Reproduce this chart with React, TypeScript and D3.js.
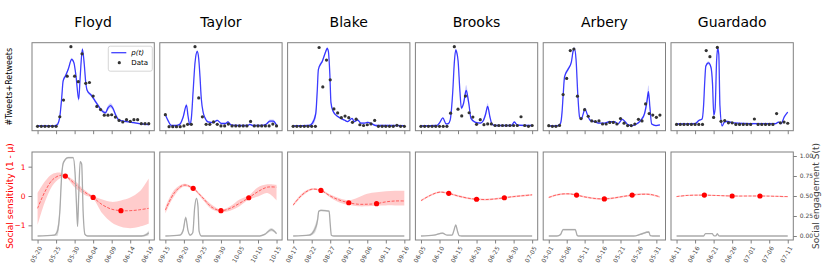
import React, { useEffect, useRef } from 'react'
import * as d3 from 'd3'

const eventNames = ['Floyd', 'Taylor', 'Blake', 'Brooks', 'Arbery', 'Guardado']
const startDates = ['2020-05-20', '2020-09-15', '2020-08-17', '2020-06-05', '2020-05-01', '2020-06-11']
const spanDays = [30, 30, 30, 30, 31, 30]

// daily #tweets+retweets (busiest day = 100)
const floydTweets = [0, 0, 0, 0, 0, 0, 12, 33, 63, 100, 63, 56, 91, 54, 55, 38, 25, 21, 14, 14, 14.5, 11.6, 7.4, 5.4, 8.3, 6.2, 8.3, 8.3, 3.3, 3.3, 3.3]
const taylorTweets = [15, 0, 0, 0, 0, 1, 3, 3, 100, 36, 12.4, 3, 3, 6, 3, 1, 1, 3.3, 1, 1, 1, 1, 1, 6.6, 1, 1, 1, 1, 1, 3.3, 1]
const blakeTweets = [0, 0, 0, 0, 0, 0, 0, 100, 50, 84, 59, 22, 17, 11, 13, 11, 5, 9, 2, 1, 2, 3, 7.4, 0, 0, 0, 0, 0, 1.2, 0, 0]
const brooksTweets = [0, 0, 0, 0, 0, 0, 0, 0, 16.5, 100, 21.5, 13, 38, 17, 11.6, 2.5, 8.3, 2, 3, 3, 1, 1, 1, 1, 1, 1, 1, 12, 1, 0, 1]
const arberyTweets = [0.8, 0, 0, 1.2, 41, 62, 98, 100, 39, 10, 21.5, 13, 7, 6.2, 7, 3, 3, 5, 5, 3, 10, 4, 1, 1, 3, 9, 7, 29, 16.5, 14.5, 11.6, 14.5]
const guardadoTweets = [0, 0, 0, 0, 0, 0, 0, 0, 96, 88, 9, 100, 4, 5, 2, 2, 0, 0, 0, 0, 0, 7, 0, 0, 0, 0, 0, 14, 2, 3, 1.5]

// p(t): [day, value, band half-width]
const floydP = [[0, 0.5, 1], [4.5, 0.5, 1], [5.3, 2, 2], [6, 12, 4], [6.5, 35, 4], [6.9, 57, 3], [7.5, 63, 2], [8.3, 72, 2], [9.2, 84, 2], [9.8, 80, 2], [10.4, 62, 2], [11.1, 34, 3], [11.5, 62, 3], [12.1, 97, 2], [12.6, 78, 2], [13, 55, 2], [13.4, 45, 2], [14.5, 39, 2], [15.5, 32, 2], [16.5, 25, 2], [17.5, 19, 2], [18.3, 17, 2], [19, 23, 3], [19.7, 26, 3], [20.4, 22, 3], [21, 15, 2], [21.7, 9, 2], [22.5, 7, 1], [24, 6, 1], [26, 4.5, 1], [28, 3, 1], [30, 2, 1]]
const taylorP = [[0, 15, 1], [0.8, 7, 1], [1.6, 1.5, 1], [3, 1.5, 1], [3.9, 3, 2], [4.8, 12, 3], [5.7, 27, 2], [6.1, 14, 2], [6.6, 2.5, 1], [7, 10, 2], [7.5, 45, 2], [8, 80, 2], [8.6, 94, 2], [9, 85, 2], [9.3, 66, 2], [9.7, 35, 2], [10.2, 18, 1], [10.6, 12, 1], [11.5, 6, 1], [12.9, 5, 1], [14, 8, 1], [15.1, 4, 1], [16.2, 4, 1], [16.9, 6, 1], [17.8, 2, 1], [20, 1.5, 1], [22.2, 1.5, 1], [22.8, 3, 1], [23.5, 1.5, 1], [26, 1.5, 1], [27.2, 3, 1], [28.2, 7, 2], [29.1, 7, 2], [30, 2, 1]]
const blakeP = [[0, 0.5, 1], [4.3, 1, 1], [5.2, 4, 3], [6.1, 16, 6], [6.5, 45, 5], [6.8, 72, 3], [7.9, 83, 2], [8.8, 95, 2], [9.2, 99, 2], [9.5, 95, 2], [9.9, 66, 2], [10.2, 30, 2], [10.7, 20, 2], [11.5, 14.5, 1], [12.5, 11, 1], [13.8, 8, 1], [14.7, 6, 1], [15.9, 10, 1], [16.5, 6, 1], [17.4, 8, 1], [18.3, 4, 1], [19.2, 4, 1], [20.1, 5, 1], [21.3, 3, 1], [22.3, 1, 1], [26, 1, 1], [30, 0.8, 1]]
const brooksP = [[0, 0.5, 1], [4.3, 1, 1], [5.1, 5, 1], [5.9, 10.5, 1], [6.8, 3, 1], [7.4, 3.5, 1], [7.9, 8, 1], [8.3, 25, 2], [8.6, 45, 2], [9, 80, 2], [9.4, 96, 2], [9.7, 92, 2], [10, 83, 2], [10.5, 45, 2], [10.9, 23, 2], [11.5, 29, 3], [12.2, 45, 7], [12.9, 29, 3], [13.5, 10, 2], [14.7, 5, 1], [16, 4, 1], [16.8, 7, 2], [17.4, 14.5, 3], [18, 25, 4], [18.6, 12, 2], [19.2, 2.5, 1], [20, 1, 1], [24.4, 1, 1], [25.2, 5.4, 1], [26, 1.5, 1], [30, 1, 1]]
const arberyP = [[0, 0.5, 1], [2.6, 1, 1], [3.3, 4, 2], [3.7, 18, 3], [4, 39, 3], [4.4, 64, 3], [5.4, 74, 2], [6.3, 83, 2], [6.9, 99, 3], [7.2, 100, 3], [7.6, 87, 2], [8.1, 41, 2], [8.6, 12, 1], [9.1, 9, 1], [9.5, 14.5, 1], [10.1, 22.5, 2], [10.7, 16, 1], [11.5, 8, 1], [12.8, 6, 1], [14.2, 4, 1], [15.6, 4, 1], [16.9, 6, 1], [18.3, 6, 1], [19.3, 3.3, 1], [20.5, 9, 1], [21.3, 6, 1], [22.2, 1.7, 1], [23.4, 1, 1], [24.8, 4, 1], [25.7, 8, 2], [26.7, 16.5, 3], [27.4, 33, 7], [27.8, 45, 8], [28.2, 25, 4], [28.7, 3, 1], [29.9, 1, 1], [31, 2, 1]]
const guardadoP = [[0, 0.5, 1], [5, 1, 1], [6, 5, 1], [6.9, 7, 1], [7.3, 25, 2], [7.6, 55, 2], [7.9, 76, 2], [8.6, 80, 2], [9.3, 74, 2], [9.7, 53, 2], [10.05, 12, 2], [10.4, 20, 2], [10.8, 82, 2], [11.1, 99, 2], [11.4, 91, 2], [11.7, 25, 2], [12.3, -2, 1], [12.9, 3, 1], [13.8, 4, 1], [15.1, 2, 1], [19.6, 1, 1], [26.8, 1, 1], [27.5, 3, 1], [28.2, 1, 1], [29.1, 10, 1], [30, 16, 1]]

// social sensitivity 1 - mu: [day, mean, lower, upper]
const floydMu = [[0, -0.42, -1.0, 0.1], [2, 0.15, -0.2, 0.5], [4, 0.55, 0.35, 0.75], [6, 0.7, 0.6, 0.8], [7.5, 0.68, 0.64, 0.72], [10, 0.42, 0.3, 0.52], [12.5, 0.15, 0.05, 0.22], [15, -0.05, -0.1, 0.0], [17.5, -0.3, -0.6, -0.12], [20, -0.45, -0.9, -0.2], [22.5, -0.5, -1.05, -0.15], [25, -0.5, -1.1, -0.05], [27.5, -0.47, -1.05, 0.15], [30, -0.42, -0.95, 0.6]]
const taylorMu = [[0, -0.48, -0.6, -0.38], [2.5, 0.12, 0.02, 0.22], [5, 0.37, 0.32, 0.42], [7.5, 0.26, 0.22, 0.3], [10, -0.05, -0.12, 0.0], [12.5, -0.38, -0.45, -0.3], [15, -0.5, -0.54, -0.46], [17.5, -0.42, -0.5, -0.35], [20, -0.25, -0.35, -0.12], [22.5, -0.06, -0.12, 0.02], [25, 0.15, -0.02, 0.3], [27.5, 0.3, 0.1, 0.4], [30, 0.3, -0.15, 0.38]]
const blakeMu = [[0, -0.31, -0.35, -0.27], [2.5, 0.05, 0.0, 0.1], [5, 0.23, 0.2, 0.26], [7.5, 0.19, 0.16, 0.22], [10, 0.0, -0.05, 0.05], [12.5, -0.14, -0.22, -0.08], [15, -0.23, -0.3, -0.15], [17.5, -0.28, -0.35, -0.05], [20, -0.28, -0.35, 0.08], [22.5, -0.26, -0.33, 0.13], [25, -0.2, -0.32, 0.16], [27.5, -0.17, -0.32, 0.18], [30, -0.17, -0.32, 0.18]]
const brooksMu = [[0, -0.16, -0.19, -0.13], [2.5, 0.02, -0.01, 0.05], [5, 0.13, 0.1, 0.16], [7.5, 0.09, 0.06, 0.12], [10, 0.0, -0.03, 0.03], [12.5, -0.07, -0.1, -0.04], [15, -0.11, -0.14, -0.08], [17.5, -0.12, -0.15, -0.09], [20, -0.1, -0.13, -0.07], [22.5, -0.06, -0.09, -0.03], [25, -0.02, -0.05, 0.01], [27.5, 0.01, -0.02, 0.04], [30, 0.04, 0.01, 0.07]]
const arberyMu = [[0, -0.05, -0.08, -0.02], [2, 0.03, 0.0, 0.06], [4, 0.07, 0.04, 0.1], [6, 0.07, 0.04, 0.1], [7.75, 0.03, 0.0, 0.06], [10, -0.03, -0.06, 0.0], [12.5, -0.08, -0.11, -0.05], [15.5, -0.1, -0.13, -0.07], [18, -0.07, -0.1, -0.04], [20.5, -0.02, -0.05, 0.01], [23.25, 0.03, 0.0, 0.06], [26, 0.06, 0.03, 0.09], [28.5, 0.05, 0.02, 0.08], [31, -0.03, -0.06, 0.0]]
const guardadoMu = [[0, -0.02, -0.04, 0.0], [3, 0.02, 0.0, 0.04], [6, 0.03, 0.01, 0.05], [7.5, 0.03, 0.01, 0.05], [10, 0.02, 0.0, 0.04], [15, 0.0, -0.02, 0.02], [22.5, 0.0, -0.02, 0.02], [27, -0.01, -0.03, 0.01], [30, -0.02, -0.04, 0.0]]

// estimated 1 - mu at the quarter points of each window
const floydSens = [0.68, -0.05, -0.5]
const taylorSens = [0.26, -0.5, -0.06]
const blakeSens = [0.19, -0.23, -0.26]
const brooksSens = [0.09, -0.11, -0.06]
const arberySens = [0.03, -0.1, 0.03]
const guardadoSens = [0.03, 0.0, 0.0]

// social engagement S(t): [day, value, band half-width]
const floydS = [[0, 0, 0], [4.5, 0.01, 0.01], [5.3, 0.05, 0.05], [6, 0.3, 0.08], [6.5, 0.75, 0.05], [7, 0.92, 0.02], [8.3, 0.98, 0.01], [9.6, 0.98, 0.01], [10.1, 0.8, 0.01], [10.5, 0.4, 0.01], [10.8, 0.12, 0.01], [11.1, 0.5, 0.01], [11.5, 0.93, 0.01], [11.9, 0.9, 0.01], [12.3, 0.3, 0.01], [12.8, 0.02, 0.01], [13.5, 0, 0], [28, 0, 0.01], [29.5, 0.02, 0.02], [30, 0.04, 0.03]]
const taylorS = [[0, 0, 0], [3.9, 0.01, 0.01], [4.8, 0.07, 0.03], [5.5, 0.23, 0.02], [6.1, 0.07, 0.01], [6.7, 0.01, 0.01], [7.4, 0.04, 0.01], [7.9, 0.35, 0.01], [8.4, 0.47, 0.01], [8.8, 0.37, 0.01], [9.1, 0.06, 0.01], [9.7, 0, 0], [25.5, 0, 0], [26.8, 0.02, 0.01], [28.6, 0.08, 0.02], [30, 0.03, 0.01]]
const blakeS = [[0, 0, 0], [4.3, 0.01, 0.01], [5.7, 0.07, 0.04], [6.6, 0.2, 0.05], [6.9, 0.31, 0.01], [7.5, 0.32, 0.01], [9.7, 0.31, 0.01], [10, 0.15, 0.01], [10.3, 0.01, 0], [11, 0, 0], [30, 0, 0]]
const brooksS = [[0, 0, 0], [3.5, 0.01, 0.005], [5.8, 0.035, 0.01], [7.1, 0.01, 0.005], [8.4, 0.01, 0.005], [8.9, 0.07, 0.01], [9.4, 0.14, 0.01], [9.8, 0.07, 0.01], [10.3, 0.005, 0], [11, 0, 0], [30, 0, 0]]
const arberyS = [[0, 0, 0], [2.3, 0, 0], [3.3, 0.02, 0.01], [4, 0.08, 0.01], [7.4, 0.08, 0.01], [7.9, 0.01, 0], [8.3, 0, 0], [23.7, 0, 0], [25.5, 0.02, 0.01], [27.9, 0.05, 0.01], [28.3, 0.005, 0], [29, 0, 0], [31, 0, 0]]
const guardadoS = [[0, 0, 0], [7.3, 0, 0], [7.8, 0.03, 0.005], [9.6, 0.03, 0.005], [10.1, 0.002, 0], [10.6, 0.002, 0], [11, 0.03, 0.005], [11.4, 0.002, 0], [12, 0, 0], [30, 0, 0]]

const tweets = [floydTweets, taylorTweets, blakeTweets, brooksTweets, arberyTweets, guardadoTweets]
const pCurves = [floydP, taylorP, blakeP, brooksP, arberyP, guardadoP]
const muCurves = [floydMu, taylorMu, blakeMu, brooksMu, arberyMu, guardadoMu]
const sensDots = [floydSens, taylorSens, blakeSens, brooksSens, arberySens, guardadoSens]
const sCurves = [floydS, taylorS, blakeS, brooksS, arberyS, guardadoS]

const FONT = 'DejaVu Sans, sans-serif'
const FRAME = '#808080'

function drawChart(node: SVGSVGElement) {
    const svg = d3.select(node)
    svg.selectAll('*').remove()
    const defs = svg.append('defs')
    const fmt = d3.timeFormat('%m-%d')

    const topY = [42.7, 130.7]
    const botY = [152, 240]
    const yMu = d3.scaleLinear().domain([-1.5, 1.5]).range([botY[1], botY[0]])
    const yS = d3.scaleLinear().domain([-0.05, 1.05]).range([botY[1], botY[0]])

    eventNames.forEach((name, i) => {
        const left = 32 + i * 127.8
        const right = left + 122.3
        const n = spanDays[i]
        const t0 = new Date(startDates[i] + 'T00:00:00')
        const at = (d: number) => new Date(t0.getTime() + d * 864e5)
        const x = d3.scaleTime().domain([at(-n * 0.05), at(n * 1.05)]).range([left, right])
        const ticks = d3.range(0, n + 1, 5).map(at)

        svg.append('text')
            .attr('x', (left + right) / 2).attr('y', 27)
            .attr('text-anchor', 'middle')
            .style('font-family', FONT).style('font-size', '14px')
            .text(name)

        // clip paths
        defs.append('clipPath').attr('id', 'ct' + i).append('rect')
            .attr('x', left).attr('y', topY[0]).attr('width', right - left).attr('height', topY[1] - topY[0])
        defs.append('clipPath').attr('id', 'cb' + i).append('rect')
            .attr('x', left).attr('y', botY[0]).attr('width', right - left).attr('height', botY[1] - botY[0])

        // ---- top panel: tweets and p(t)
        const tw = tweets[i]
        const pt = pCurves[i]
        const lo = d3.min([...tw, ...pt.map(d => d[1] - d[2])]) as number
        const hi = d3.max([...tw, ...pt.map(d => d[1] + d[2])]) as number
        const yTop = d3.scaleLinear()
            .domain([lo - 0.05 * (hi - lo), hi + 0.05 * (hi - lo)])
            .range([topY[1], topY[0]])

        const gt = svg.append('g').attr('clip-path', `url(#ct${i})`)
        gt.append('path')
            .datum(pt)
            .attr('fill', '#0000ff').attr('fill-opacity', 0.2)
            .attr('d', d3.area<number[]>()
                .x(d => x(at(d[0])))
                .y0(d => yTop(d[1] - d[2]))
                .y1(d => yTop(d[1] + d[2]))
                .curve(d3.curveMonotoneX))
        gt.append('path')
            .datum(pt)
            .attr('fill', 'none').attr('stroke', '#0000ff').attr('stroke-opacity', 0.75).attr('stroke-width', 1.3)
            .attr('d', d3.line<number[]>()
                .x(d => x(at(d[0])))
                .y(d => yTop(d[1]))
                .curve(d3.curveMonotoneX))
        gt.selectAll('circle.obs')
            .data(tw)
            .enter().append('circle')
            .attr('cx', (d, k) => x(at(k)))
            .attr('cy', d => yTop(d))
            .attr('r', 1.6)
            .attr('fill', '#333')

        const axT = svg.append('g').attr('transform', `translate(0,${topY[1]})`)
            .call(d3.axisBottom(x).tickValues(ticks).tickFormat(() => '').tickSize(3.5))
        axT.select('.domain').remove()
        axT.selectAll('line').attr('stroke', FRAME)

        svg.append('rect')
            .attr('x', left).attr('y', topY[0]).attr('width', right - left).attr('height', topY[1] - topY[0])
            .attr('fill', 'none').attr('stroke', FRAME).attr('stroke-width', 1)

        // ---- bottom panel: sensitivity and engagement
        const mu = muCurves[i]
        const s = sCurves[i]
        const gb = svg.append('g').attr('clip-path', `url(#cb${i})`)
        gb.append('path')
            .datum(mu)
            .attr('fill', '#ff0000').attr('fill-opacity', 0.2)
            .attr('d', d3.area<number[]>()
                .x(d => x(at(d[0])))
                .y0(d => yMu(d[2]))
                .y1(d => yMu(d[3]))
                .curve(d3.curveCatmullRom))
        gb.append('path')
            .datum(mu)
            .attr('fill', 'none').attr('stroke', '#ff0000').attr('stroke-opacity', 0.55)
            .attr('stroke-width', 1).attr('stroke-dasharray', '3,1.5')
            .attr('d', d3.line<number[]>()
                .x(d => x(at(d[0])))
                .y(d => yMu(d[1]))
                .curve(d3.curveCatmullRom))
        gb.selectAll('circle.sens')
            .data(sensDots[i])
            .enter().append('circle')
            .attr('cx', (d, k) => x(at(n * (k + 1) / 4)))
            .attr('cy', d => yMu(d))
            .attr('r', 2.6)
            .attr('fill', '#ff0000')

        gb.append('path')
            .datum(s)
            .attr('fill', '#999').attr('fill-opacity', 0.35)
            .attr('d', d3.area<number[]>()
                .x(d => x(at(d[0])))
                .y0(d => yS(d[1] - d[2]))
                .y1(d => yS(d[1] + d[2]))
                .curve(d3.curveMonotoneX))
        gb.append('path')
            .datum(s)
            .attr('fill', 'none').attr('stroke', '#aaa').attr('stroke-width', 1.3)
            .attr('d', d3.line<number[]>()
                .x(d => x(at(d[0])))
                .y(d => yS(d[1]))
                .curve(d3.curveMonotoneX))

        const axB = svg.append('g').attr('transform', `translate(0,${botY[1]})`)
            .call(d3.axisBottom(x).tickValues(ticks).tickFormat(d => fmt(d as Date)).tickSize(3.5))
        axB.select('.domain').remove()
        axB.selectAll('line').attr('stroke', FRAME)
        axB.selectAll('text')
            .attr('x', 0).attr('y', 0).attr('dy', '0.35em')
            .attr('transform', 'translate(2.5,7) rotate(-60)')
            .attr('text-anchor', 'end')
            .attr('fill', '#444')
            .style('font-family', FONT).style('font-size', '6px')

        if (i === 0) {
            const axL = svg.append('g').attr('transform', `translate(${left},0)`)
                .call(d3.axisLeft(yMu).tickValues([-1, 0, 1]).tickFormat(d3.format('d')).tickSize(3.5))
            axL.select('.domain').remove()
            axL.selectAll('line').attr('stroke', FRAME)
            axL.selectAll('text').attr('fill', '#ff0000')
                .style('font-family', FONT).style('font-size', '7.5px')
        }
        if (i === eventNames.length - 1) {
            const axR = svg.append('g').attr('transform', `translate(${right},0)`)
                .call(d3.axisRight(yS).tickValues([0, 0.25, 0.5, 0.75, 1]).tickFormat(d3.format('.2f')).tickSize(3.5))
            axR.select('.domain').remove()
            axR.selectAll('line').attr('stroke', FRAME)
            axR.selectAll('text').attr('fill', '#444')
                .style('font-family', FONT).style('font-size', '6px')
        }

        svg.append('rect')
            .attr('x', left).attr('y', botY[0]).attr('width', right - left).attr('height', botY[1] - botY[0])
            .attr('fill', 'none').attr('stroke', FRAME).attr('stroke-width', 1)

        // legend in the first panel
        if (i === 0) {
            const lg = svg.append('g').attr('transform', `translate(${right - 46},${topY[0] + 3.5})`)
            lg.append('rect').attr('width', 44).attr('height', 25).attr('rx', 2)
                .attr('fill', 'white').attr('fill-opacity', 0.8).attr('stroke', '#ccc').attr('stroke-width', 0.8)
            lg.append('line').attr('x1', 3).attr('x2', 18).attr('y1', 6.5).attr('y2', 6.5)
                .attr('stroke', '#0000ff').attr('stroke-opacity', 0.75).attr('stroke-width', 1.3)
            lg.append('text').attr('x', 23).attr('y', 9)
                .style('font-family', FONT).style('font-size', '7px').style('font-style', 'italic')
                .text('p(t)')
            lg.append('circle').attr('cx', 11).attr('cy', 16.5).attr('r', 1.6).attr('fill', '#333')
            lg.append('text').attr('x', 23).attr('y', 19)
                .style('font-family', FONT).style('font-size', '7px')
                .text('Data')
        }
    })

    // axis titles
    svg.append('text')
        .attr('transform', `translate(9,${(topY[0] + topY[1]) / 2}) rotate(-90)`)
        .attr('text-anchor', 'middle').attr('dy', '0.35em')
        .style('font-family', FONT).style('font-size', '8px')
        .text('#Tweets+Retweets')
    svg.append('text')
        .attr('transform', `translate(10,${(botY[0] + botY[1]) / 2}) rotate(-90)`)
        .attr('text-anchor', 'middle').attr('dy', '0.35em')
        .attr('fill', '#ff0000')
        .style('font-family', FONT).style('font-size', '9px')
        .text('Social sensitivity (1 - μ)')
    svg.append('text')
        .attr('transform', `translate(816,${(botY[0] + botY[1]) / 2}) rotate(-90)`)
        .attr('text-anchor', 'middle').attr('dy', '0.35em')
        .attr('fill', '#444')
        .style('font-family', FONT).style('font-size', '9px')
        .text('Social engagement S(t)')
}

const App = () => {
    const ref = useRef<SVGSVGElement>(null)
    useEffect(() => {
        if (ref.current) drawChart(ref.current)
    }, [])
    return (
        <svg ref={ref} width={831} height={273}
            style={{ position: 'absolute', left: 0, top: 0, background: 'white' }} />
    )
}

export default App
